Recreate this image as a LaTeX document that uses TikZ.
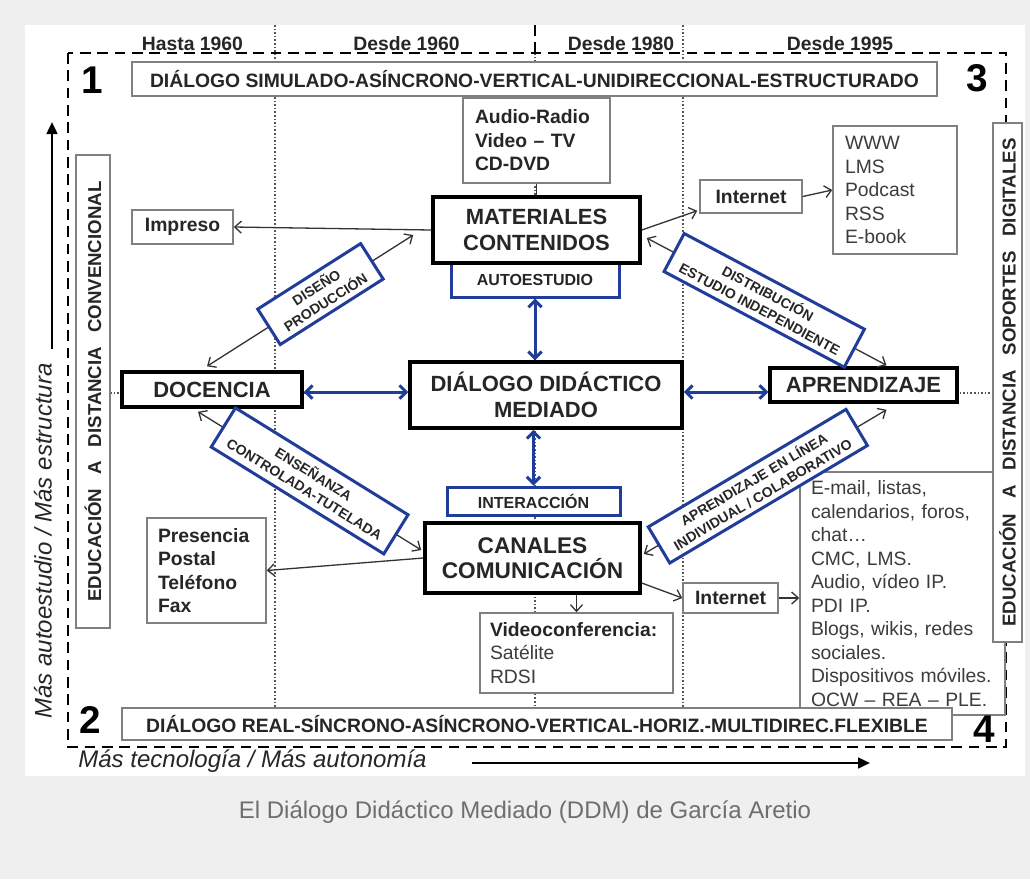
\documentclass[tikz,border=0pt]{standalone}
\usepackage{fontspec}
\setmainfont{Liberation Sans}
\usetikzlibrary{arrows.meta,calc}
\definecolor{bggrey}{HTML}{EFEFEF}
\definecolor{blueb}{HTML}{1F3D99}
\definecolor{greyline}{HTML}{808080}
\definecolor{textdark}{HTML}{262626}
\definecolor{textgrey}{HTML}{3C3C3C}
\definecolor{conncol}{HTML}{333333}
\definecolor{guidecol}{HTML}{555555}
\definecolor{capgrey}{HTML}{6E6E6E}
\def\P#1{#1*0.75pt}
\begin{document}
\begin{tikzpicture}[x=0.75pt,y=-0.75pt,
  thickbox/.style={draw=black, line width=\P{3.5}, fill=white, inner sep=0pt, align=center,
    text=textdark, font=\fontsize{16.5}{19}\selectfont\bfseries},
  greybox/.style={draw=greyline, line width=\P{1.5}, fill=white, inner sep=0pt, text=textdark},
  bluebox/.style={draw=blueb, line width=\P{3}, fill=white, inner sep=0pt, text=textdark,
    font=\fontsize{12}{14}\selectfont\bfseries},
  diag/.style={bluebox, sloped, align=center, font=\fontsize{10.5}{13}\selectfont\bfseries},
  bold14/.style={font=\fontsize{14.5}{17.6}\selectfont\bfseries},
  reg14/.style={font=\fontsize{14.5}{17.6}\selectfont, text=textgrey},
  header/.style={inner sep=0pt, text=textdark, font=\fontsize{14.5}{17}\selectfont\bfseries},
  bignum/.style={inner sep=0pt, text=black, font=\fontsize{29}{29}\selectfont\bfseries},
  banner/.style={greybox, font=\fontsize{14.5}{17}\selectfont\bfseries},
  sidetext/.style={greybox, rotate=90, font=\fontsize{14}{16}\selectfont\bfseries},
  guide/.style={draw=guidecol, line width=\P{1.4}, dash pattern=on 1.2pt off 1.5pt},
  frame/.style={draw=black, line width=\P{2.6}, dash pattern=on 8pt off 5pt},
  conn/.style={draw=conncol, line width=\P{1.3}, -{Straight Barb[length=5pt,width=9pt]}},
  plainconn/.style={draw=conncol, line width=\P{1.3}},
  conntwo/.style={draw=conncol, line width=\P{1.3}, {Straight Barb[length=5pt,width=9pt]}-{Straight Barb[length=5pt,width=9pt]}},
  bluearr/.style={draw=blueb, line width=\P{3}, {Straight Barb[length=5pt,width=10pt]}-{Straight Barb[length=5pt,width=10pt]}},
  axisarr/.style={draw=black, line width=\P{2.5}, -{Triangle[length=9pt,width=8pt]}},
  axislabel/.style={inner sep=0pt, text=textdark, font=\fontsize{18}{20}\selectfont\itshape}
]
\useasboundingbox (0,0) rectangle (1030,879);
\fill[bggrey] (0,0) rectangle (1030,879);
\fill[white] (25,25) rectangle (1025,776);

% guides
\draw[guide] (275,25) -- (275,708);
\draw[guide] (683,25) -- (683,708);
\draw[guide] (535,53) -- (535,708);
\draw[guide] (110,393) -- (993,393);
\draw[frame] (535,25) -- (535,53);
\draw[frame] (68,53) rectangle (1006,747);

% headers
\node[header] (h1) at (192.5,44) {Hasta 1960};
\node[header] (h2) at (406.5,44) {Desde 1960};
\node[header] (h3) at (621,44) {Desde 1980};
\node[header] (h4) at (840,44) {Desde 1995};

% numbers
\node[bignum] (n1) at (92,80) {1};
\node[bignum] (n3) at (977,78) {3};
\node[bignum] (n2) at (90,720) {2};

% banners
\node[banner, minimum width=\P{805}, minimum height=\P{34}] (topban) at (534.5,79)
  {DIÁLOGO SIMULADO-ASÍNCRONO-VERTICAL-UNIDIRECCIONAL-ESTRUCTURADO};

% left side box
\node[sidetext, minimum width=\P{473}, minimum height=\P{34}] (lbox) at (93,391.5)
  {EDUCACIÓN\hspace{0.75em}A\hspace{0.75em}DISTANCIA\hspace{0.75em}CONVENCIONAL};

% list box, right box, bottom banner
\node[greybox, reg14, minimum height=\P{243}, text width=137.25pt, inner xsep=8.25pt, align=left] (list) at (902.5,593.5)
  {E-mail, listas,\\calendarios, foros,\\chat…\\CMC, LMS.\\Audio, vídeo IP.\\PDI IP.\\Blogs, wikis, redes\\sociales.\\Dispositivos móviles.\\OCW – REA – PLE.};
\node[sidetext, minimum width=\P{519}, minimum height=\P{29}] (rbox) at (1007.5,382.5)
  {EDUCACIÓN\hspace{0.8em}A\hspace{0.8em}DISTANCIA\hspace{0.8em}SOPORTES\hspace{0.8em}DIGITALES};
\node[banner, minimum width=\P{830}, minimum height=\P{32}] (botban) at (537,724)
  {DIÁLOGO REAL-SÍNCRONO-ASÍNCRONO-VERTICAL-HORIZ.-MULTIDIREC.FLEXIBLE};
\node[bignum] (n4) at (984,729) {4};

% small grey boxes
\node[greybox, bold14, text width=92.25pt, inner xsep=9pt, minimum height=\P{85}, align=left] (audio) at (536.5,140.5)
  {Audio-Radio\\Video – TV\\CD-DVD};
\node[greybox, bold14, minimum width=\P{101}, minimum height=\P{34}] (imp) at (182.5,227) {Impreso};
\node[greybox, bold14, minimum width=\P{102}, minimum height=\P{33}] (inet1) at (751,196.5) {Internet};
\node[greybox, reg14, text width=75pt, inner xsep=9pt, minimum height=\P{128}, align=left] (www) at (895,190)
  {WWW\\LMS\\Podcast\\RSS\\E-book};
\node[greybox, bold14, text width=72.75pt, inner xsep=8.25pt, minimum height=\P{105}, align=left] (pres) at (206.5,570.5)
  {Presencia\\Postal\\Teléfono\\Fax};
\node[greybox, bold14, minimum width=\P{95}, minimum height=\P{30}] (inet2) at (730.5,598) {Internet};
\node[greybox, reg14, text width=129.75pt, inner xsep=7.5pt, minimum height=\P{80}, align=left] (video) at (576.5,653)
  {\textbf{\color{textdark}Videoconferencia:}\\Satélite\\RDSI};

% blue label boxes
\node[bluebox, minimum width=\P{168}, minimum height=\P{35}] (auto) at (535,279.5) {AUTOESTUDIO};
\node[bluebox, minimum width=\P{173}, minimum height=\P{28}] (inter) at (533.5,501) {INTERACCIÓN};

% main boxes
\node[thickbox, minimum width=\P{207}, minimum height=\P{66}, font=\fontsize{16.5}{20}\selectfont\bfseries] (mat) at (536.5,230) {MATERIALES\\CONTENIDOS};
\node[thickbox, minimum width=\P{272}, minimum height=\P{66}] (ddm) at (546,395) {DIÁLOGO DIDÁCTICO\\MEDIADO};
\node[thickbox, minimum width=\P{180}, minimum height=\P{35}] (doc) at (212,389.5) {DOCENCIA};
\node[thickbox, minimum width=\P{187}, minimum height=\P{34}] (apr) at (863.5,385) {APRENDIZAJE};
\node[thickbox, minimum width=\P{215}, minimum height=\P{70}, font=\fontsize{17}{19}\selectfont\bfseries] (can) at (532.5,558) {CANALES\\COMUNICACIÓN};

% connectors
\draw[plainconn] (audio.south) -- (mat.north);
\draw[conn] (mat.west) -- (imp.east);
\draw[conn] (mat.east) -- ($(inet1.south west)+(-2,-3)$);
\draw[conn] (inet1.east) -- (www.west);
\draw[conn] (can.west) -- (pres.east);
\draw[conn] ($(can.east)+(0,25)$) -- (inet2.west);
\draw[conn] (inet2.east) -- (inet2.east -| list.west);
\draw[conn] (can.south -| video.north) -- (video.north);

\draw[conntwo] ($(doc.north)+(-5,-4)$) -- node[diag, pos=0.55, minimum width=\P{122}, minimum height=\P{42}] (lab1) {DISEÑO\\PRODUCCIÓN} ($(mat.west)+(-18,5)$);
\draw[conntwo] ($(mat.east)+(5,8)$) -- node[diag, pos=0.49, minimum width=\P{204}, minimum height=\P{43}] (lab2) {DISTRIBUCIÓN\\ESTUDIO INDEPENDIENTE} ($(apr.north)+(23,-1)$);
\draw[conntwo] ($(doc.south)+(-14,3)$) -- node[diag, pos=0.5, minimum width=\P{203}, minimum height=\P{46}] (lab3) {ENSEÑANZA\\CONTROLADA-TUTELADA} ($(can.west)+(-2,-8)$);
\draw[conntwo] ($(can.east)+(2,-4)$) -- node[diag, pos=0.47, minimum width=\P{230}, minimum height=\P{42}] (lab4) {APRENDIZAJE EN LÍNEA\\INDIVIDUAL / COLABORATIVO} ($(apr.south)+(23,6)$);

% blue arrows
\draw[bluearr] ($(doc.east)+(0,2.5)$) -- ($(ddm.west)+(0,-3)$);
\draw[bluearr] ($(ddm.east)+(0,-3)$) -- ($(apr.west)+(0,7)$);
\draw[bluearr] (auto.south) -- (auto.south |- ddm.north);
\draw[bluearr] (ddm.south -| inter.north) -- (inter.north);

% axes
\coordinate (ya0) at (52,349);
\coordinate (ya1) at (52,122);
\draw[axisarr] (ya0) -- (ya1);
\node[axislabel, rotate=90] (ylab) at (43,541) {Más autoestudio / Más estructura};
\coordinate (xa0) at (472,763);
\coordinate (xa1) at (870,763);
\draw[axisarr] (xa0) -- (xa1);
\node[axislabel] (xlab) at (252.5,761) {Más tecnología / Más autonomía};

% caption
\node[inner sep=0pt, text=capgrey, font=\fontsize{18}{20}\selectfont] (cap) at (525,812)
  {El Diálogo Didáctico Mediado (DDM) de García Aretio};
\end{tikzpicture}
\end{document}
